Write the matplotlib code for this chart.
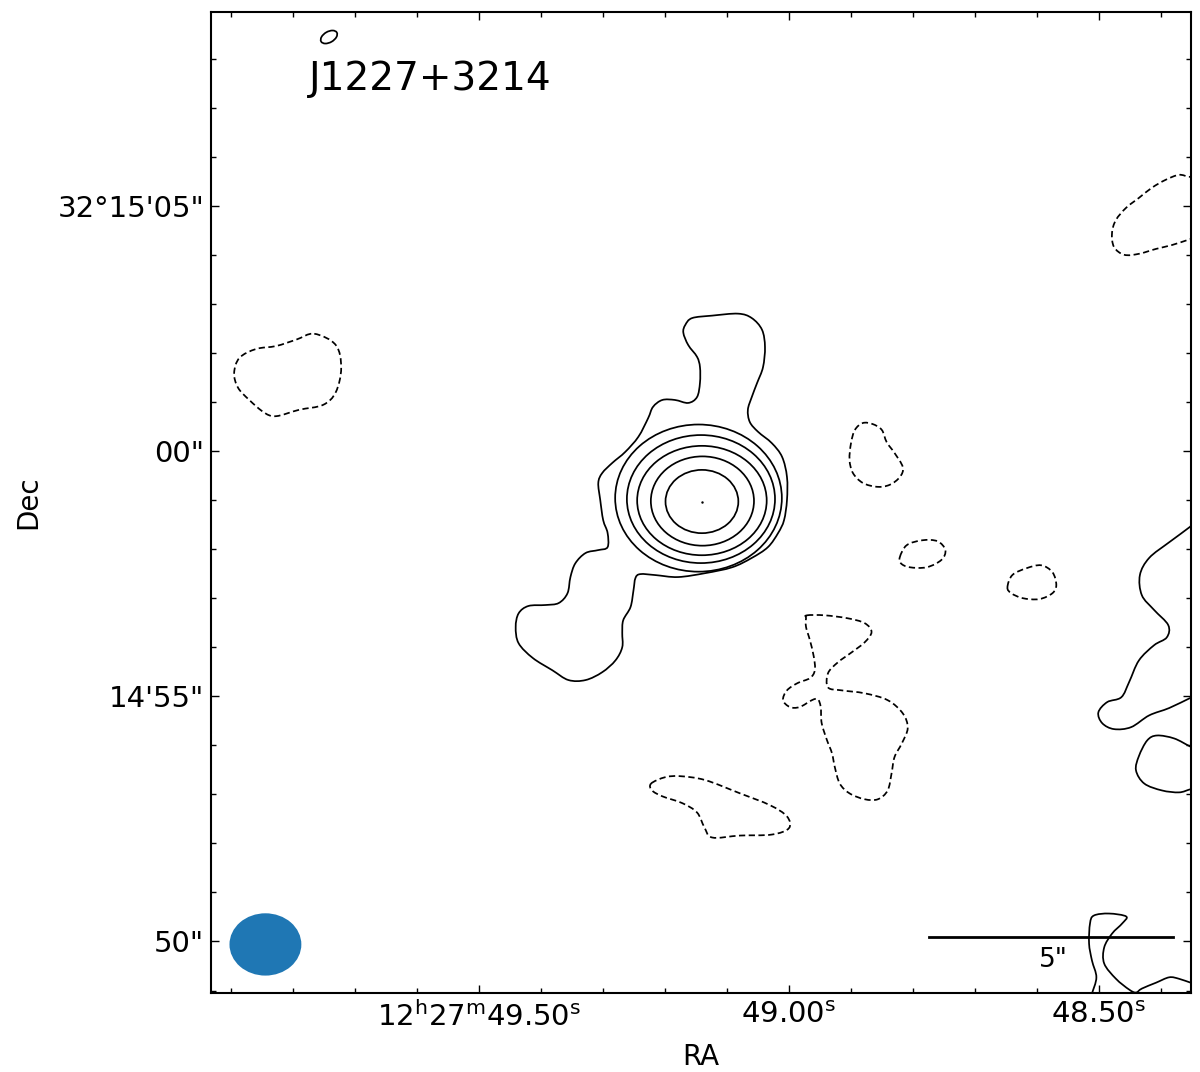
import numpy as np
import matplotlib
matplotlib.use('Agg')
import matplotlib.pyplot as plt
from matplotlib.path import Path
from matplotlib.patches import PathPatch, Ellipse

# offsets in arcsec from RA 12h27m49.00s, Dec +32d15'00" (x positive = east)
DEC0 = 32.25
SEC_TO_ARCSEC = 15 * np.cos(np.radians(DEC0))

# outer (lowest positive) contour around the source
outer_x = [2.12, 1.98, 1.57, 1.04, 0.76, 0.55, 0.49, 0.53, 0.65, 0.76, 0.84, 0.80, 0.63, 0.35,
           0.14, 0.04, 0.04, 0.10, 0.22, 0.43, 0.76, 1.16, 1.71, 2.27, 2.73, 3.04, 3.14, 3.18,
           3.24, 3.39, 3.41, 3.41, 3.55, 3.82, 4.16, 4.51, 4.84, 5.24, 5.53, 5.59, 5.53, 5.33,
           4.98, 4.71, 4.53, 4.47, 4.37, 4.16, 3.90, 3.71, 3.71, 3.80, 3.86, 3.90, 3.82, 3.61,
           3.35, 3.08, 2.88, 2.78, 2.59, 2.33, 2.06, 1.88, 1.82, 1.82, 1.88, 2.06, 2.16]
outer_y = [2.57, 2.71, 2.76, 2.80, 2.71, 2.47, 2.12, 1.71, 1.39, 1.10, 0.84, 0.59, 0.39, 0.16,
           -0.12, -0.53, -1.00, -1.41, -1.67, -1.96, -2.18, -2.37, -2.49, -2.57, -2.53, -2.51,
           -2.59, -2.84, -3.18, -3.45, -3.71, -4.00, -4.27, -4.51, -4.67, -4.67, -4.47, -4.22,
           -3.92, -3.59, -3.31, -3.16, -3.14, -3.10, -2.90, -2.57, -2.29, -2.08, -2.02, -1.96,
           -1.67, -1.41, -1.00, -0.65, -0.45, -0.24, -0.02, 0.29, 0.67, 0.90, 1.04, 1.04, 0.98,
           1.10, 1.39, 1.71, 1.92, 2.16, 2.41]

# inner contours of the core (ellipse-like)
ring_x = [1.85, 1.80, 1.78, 1.77, 1.78]
ring_y = [-0.96, -0.98, -1.01, -1.02, -1.03]
ring_w = [3.41, 3.03, 2.65, 2.11, 1.49]
ring_h = [3.00, 2.61, 2.23, 1.82, 1.29]
peak_x, peak_y = 1.77, -1.05

# other positive contours (open ones run off the map edge)
pos_contours = {
    'right_a': ([-8.29, -8.20, -7.78, -7.37, -7.18, -7.22, -7.47, -7.76, -7.73, -7.47, -7.16,
                 -6.96, -6.80, -6.51, -6.33, -6.41, -6.65, -7.00, -7.37, -7.78, -8.20, -8.31],
                [-1.45, -1.55, -1.86, -2.18, -2.53, -2.94, -3.24, -3.55, -3.80, -3.96, -4.27,
                 -4.71, -5.02, -5.12, -5.33, -5.55, -5.67, -5.63, -5.39, -5.24, -5.04, -5.00]),
    'right_b': ([-8.31, -8.20, -7.88, -7.53, -7.33, -7.16, -7.10, -7.27, -7.63, -7.98, -8.20, -8.31],
                [-6.06, -6.02, -5.86, -5.80, -5.90, -6.22, -6.51, -6.78, -6.92, -6.96, -6.90, -6.88]),
    'corner': ([-6.20, -6.20, -6.29, -6.20, -6.14, -6.16, -6.24, -6.55, -6.90, -6.82, -6.61,
                -6.45, -6.45, -6.69, -6.96, -7.10, -7.22, -7.51, -7.78, -7.98, -8.22, -8.33],
               [-11.10, -11.06, -10.73, -10.39, -10.04, -9.63, -9.47, -9.43, -9.49, -9.63, -9.84,
                -10.12, -10.45, -10.76, -10.98, -11.04, -10.96, -10.84, -10.73, -10.76, -10.84, -10.86]),
}
pos_closed = {'right_a': False, 'right_b': False, 'corner': False}

# negative contours
neg_contours = {
    'west_blob': ([9.71, 9.27, 9.16, 9.27, 9.53, 10.02, 10.49, 10.73, 11.04, 11.27, 11.35, 11.24,
                   10.90, 10.49, 10.08],
                  [2.39, 2.16, 1.69, 1.20, 0.94, 0.84, 0.71, 0.78, 1.04, 1.29, 1.59, 1.90,
                   2.08, 2.14, 2.27]),
    'drop': ([-1.35, -1.51, -1.71, -1.90, -2.00, -2.16, -2.33, -2.27, -2.06, -1.80, -1.51, -1.31,
              -1.24, -1.27],
             [0.43, 0.57, 0.55, 0.43, 0.18, -0.04, -0.33, -0.53, -0.69, -0.73, -0.65, -0.45,
              -0.18, 0.16]),
    'small_a': ([-2.27, -2.41, -2.73, -3.04, -3.20, -3.12, -2.82, -2.47, -2.29],
                [-2.16, -1.92, -1.82, -1.84, -2.02, -2.22, -2.37, -2.37, -2.29]),
    'small_b': ([-4.47, -4.57, -4.86, -5.16, -5.39, -5.47, -5.39, -5.12, -4.78, -4.55],
                [-2.78, -2.53, -2.39, -2.33, -2.47, -2.73, -2.90, -3.02, -3.00, -2.90]),
    'south': ([-0.37, -0.73, -1.20, -1.55, -1.69, -1.55, -1.29, -1.00, -0.80, -0.80, -1.08, -1.55,
               -2.02, -2.33, -2.43, -2.31, -2.16, -2.10, -2.02, -1.82, -1.55, -1.24, -1.04, -0.94,
               -0.88, -0.78, -0.67, -0.65, -0.59, -0.47, -0.22, -0.02, 0.12, 0.04, -0.18, -0.43,
               -0.53, -0.51, -0.43, -0.35, -0.35],
              [-3.35, -3.35, -3.41, -3.51, -3.69, -3.90, -4.10, -4.31, -4.53, -4.82, -4.88, -4.94,
               -5.08, -5.35, -5.65, -5.96, -6.24, -6.57, -6.92, -7.10, -7.10, -6.98, -6.78, -6.45,
               -6.16, -5.90, -5.55, -5.22, -5.06, -5.08, -5.22, -5.22, -5.08, -4.88, -4.73, -4.63,
               -4.47, -4.20, -3.86, -3.59, -3.41]),
    'bottom': ([2.82, 2.53, 2.22, 1.71, 1.00, 0.39, 0.04, 0.00, 0.35, 1.00, 1.57, 1.73, 1.88,
                2.18, 2.59, 2.80],
               [-6.78, -6.65, -6.63, -6.71, -6.98, -7.22, -7.45, -7.69, -7.82, -7.84, -7.88,
                -7.67, -7.37, -7.18, -7.04, -6.92]),
    'north_east': ([-8.31, -8.18, -7.98, -7.71, -7.43, -7.16, -6.90, -6.69, -6.61, -6.65, -6.86,
                    -7.16, -7.51, -7.84, -8.18, -8.31],
                   [5.59, 5.59, 5.63, 5.53, 5.37, 5.16, 4.96, 4.71, 4.45, 4.16, 4.00, 4.02,
                    4.12, 4.20, 4.31, 4.35]),
}
neg_closed = {'north_east': False}

# small positive island near the top
island = (9.41, 8.44, 0.37, 0.22, -30)

# restoring beam (arcsec) and scale bar
beam_pos = (10.71, -10.06)
beam_w, beam_h = 1.47, 1.27
scalebar_len = 5.0
scalebar_pos = (-2.86, -9.90)

ra_major = [49.50, 49.00, 48.50]
ra_labels = ['12$^\\mathrm{h}$27$^\\mathrm{m}$49.50$^\\mathrm{s}$',
             '49.00$^\\mathrm{s}$', '48.50$^\\mathrm{s}$']
ra_minor = [49.9, 49.8, 49.7, 49.6, 49.4, 49.3, 49.2, 49.1,
            48.9, 48.8, 48.7, 48.6, 48.4]
dec_major = [5, 0, -5, -10]
dec_labels = ['32\u00b015\'05"', '00"', '14\'55"', '50"']

LW = 1.25


def smooth_path(xs, ys, closed=True):
    pts = np.column_stack([xs, ys])
    n = len(pts)
    verts = [pts[0]]
    codes = [Path.MOVETO]
    nseg = n if closed else n - 1
    for i in range(nseg):
        if closed:
            p0, p1, p2, p3 = pts[(i - 1) % n], pts[i], pts[(i + 1) % n], pts[(i + 2) % n]
        else:
            p0, p1, p2, p3 = pts[max(i - 1, 0)], pts[i], pts[i + 1], pts[min(i + 2, n - 1)]
        verts += [p1 + (p2 - p0) / 6.0, p2 - (p3 - p1) / 6.0, p2]
        codes += [Path.CURVE4] * 3
    return Path(verts, codes)


def draw_contour(ax, xs, ys, closed=True, dashed=False):
    ls = (0, (3.6, 2.0)) if dashed else '-'
    ax.add_patch(PathPatch(smooth_path(xs, ys, closed), fill=False, ec='black',
                           lw=LW, ls=ls))


def main():
    fig = plt.figure(figsize=(12, 10.72), dpi=100)
    ax = fig.add_axes([211 / 1200, 79 / 1072, 980 / 1200, 981 / 1072])

    draw_contour(ax, outer_x, outer_y)
    for x, y, w, h in zip(ring_x, ring_y, ring_w, ring_h):
        ax.add_patch(Ellipse((x, y), w, h, fill=False, ec='black', lw=LW))
    ax.plot([peak_x], [peak_y], 'k.', ms=1.5)
    for name, (xs, ys) in pos_contours.items():
        draw_contour(ax, xs, ys, closed=pos_closed.get(name, True))
    for name, (xs, ys) in neg_contours.items():
        draw_contour(ax, xs, ys, closed=neg_closed.get(name, True), dashed=True)
    ix, iy, iw, ih, ia = island
    ax.add_patch(Ellipse((ix, iy), iw, ih, angle=ia, fill=False, ec='black', lw=LW))

    ax.add_patch(Ellipse(beam_pos, beam_w, beam_h, fc='#1f77b4', ec='none'))
    sx, sy = scalebar_pos
    ax.plot([sx, sx - scalebar_len], [sy, sy], color='black', lw=2)
    ax.text(sx - scalebar_len / 2 - 0.05, sy - 0.22, '5"', ha='center', va='top', fontsize=19)

    ax.text(0.1, 0.932, 'J1227+3214', transform=ax.transAxes, fontsize=28, va='center')

    ax.set_xlim((49.932 - 49.0) * SEC_TO_ARCSEC, (48.3516 - 49.0) * SEC_TO_ARCSEC)
    ax.set_ylim(-11.05, 8.95)

    ax.set_xticks([(s - 49.0) * SEC_TO_ARCSEC for s in ra_major])
    ax.set_xticklabels(ra_labels)
    ax.set_xticks([(s - 49.0) * SEC_TO_ARCSEC for s in ra_minor], minor=True)
    ax.set_yticks(dec_major)
    ax.set_yticklabels(dec_labels)
    ax.set_yticks([d for d in range(-11, 9) if d % 5 != 0], minor=True)
    ax.tick_params(which='both', direction='in', top=True, right=True, width=1, labelsize=21)
    ax.tick_params(axis='x', pad=6)
    ax.tick_params(axis='y', pad=5)
    ax.tick_params(which='major', length=6)
    ax.tick_params(which='minor', length=3.5)
    for sp in ax.spines.values():
        sp.set_linewidth(1.5)

    ax.set_xlabel('RA', fontsize=20, labelpad=8)
    ax.set_ylabel('Dec', fontsize=20, labelpad=11)

    fig.savefig('out.png', dpi=100)


if __name__ == '__main__':
    main()
